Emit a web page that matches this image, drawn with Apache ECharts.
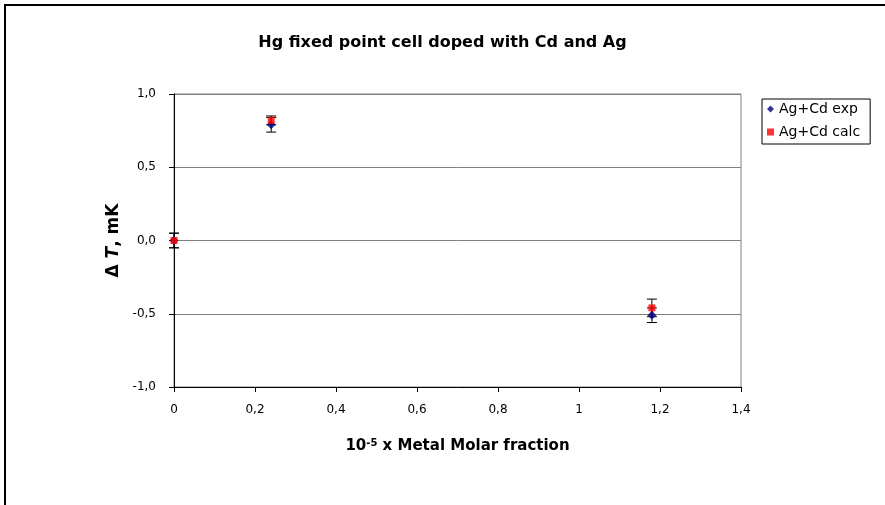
<!DOCTYPE html>
<html>
<head>
<meta charset="utf-8">
<script src="https://cdn.jsdelivr.net/npm/echarts@6/dist/echarts.min.js"></script>
<style>
  html, body { margin: 0; padding: 0; background: #fff; overflow: hidden; }
  #chart { width: 885px; height: 505px; }
</style>
</head>
<body>
<div id="chart"></div>
<script>
// data
var molarFraction = [0, 0.24, 1.18];
var expValues = [0.00, 0.79, -0.51];
var expErrors = [0.05, 0.05, 0.05];
var calcValues = [0.00, 0.82, -0.46];
var calcErrors = [0.05, 0.03, 0.06];

var seriesNames = ['Ag+Cd exp', 'Ag+Cd calc'];
var xTicks = [0, 0.2, 0.4, 0.6, 0.8, 1, 1.2, 1.4];
var yTicks = [-1, -0.5, 0, 0.5, 1];

var font = '"DejaVu Sans", Arial, sans-serif';

function commaX(v) {
    return String(Math.round(v * 10) / 10).replace('.', ',');
}
function commaY(v) {
    return v.toFixed(1).replace('.', ',');
}

function errorData(vals, errs) {
    return molarFraction.map(function (x, i) {
        return [x, vals[i] - errs[i], vals[i] + errs[i]];
    });
}

// vertical bar with caps, drawn through the axes
function renderErr(params, api) {
    var lo = api.coord([api.value(0), api.value(1)]);
    var hi = api.coord([api.value(0), api.value(2)]);
    var cap = 5;
    var st = { stroke: '#000', lineWidth: 1 };
    return {
        type: 'group',
        children: [
            { type: 'line', shape: { x1: lo[0], y1: lo[1], x2: hi[0], y2: hi[1] }, style: st },
            { type: 'line', shape: { x1: lo[0] - cap, y1: lo[1], x2: lo[0] + cap, y2: lo[1] }, style: st },
            { type: 'line', shape: { x1: hi[0] - cap, y1: hi[1], x2: hi[0] + cap, y2: hi[1] }, style: st }
        ]
    };
}

var chart = echarts.init(document.getElementById('chart'));

chart.setOption({
    animation: false,
    backgroundColor: '#fff',
    title: {
        text: 'Hg fixed point cell doped with Cd and Ag',
        left: 'center',
        top: 30,
        textStyle: { fontFamily: font, fontSize: 16, fontWeight: 'bold', color: '#000' }
    },
    legend: {
        orient: 'vertical',
        left: 762,
        top: 99,
        padding: [3, 10, 5, 5],
        itemGap: 9,
        itemWidth: 7,
        itemHeight: 7,
        borderColor: '#000',
        borderWidth: 1,
        textStyle: { fontFamily: font, fontSize: 14, color: '#000' },
        data: [
            { name: seriesNames[0], icon: 'diamond' },
            { name: seriesNames[1], icon: 'rect' }
        ]
    },
    grid: {
        left: 174,
        right: 144,
        top: 94,
        bottom: 118,
        show: true,
        borderColor: '#808080',
        borderWidth: 1
    },
    xAxis: {
        type: 'value',
        min: 0,
        max: 1.4,
        interval: 0.2,
        name: '10{sup|-5} x Metal Molar fraction',
        nameLocation: 'middle',
        nameGap: 51,
        nameTextStyle: {
            fontFamily: font, fontSize: 15, fontWeight: 'bold', color: '#000',
            rich: {
                sup: { fontFamily: font, fontSize: 10, fontWeight: 'bold', color: '#000', verticalAlign: 'top', padding: [0, 0, 7, 0] }
            }
        },
        axisLine: { onZero: false, lineStyle: { color: '#000', width: 1 } },
        axisTick: { inside: false, length: 5, lineStyle: { color: '#000' } },
        axisLabel: {
            margin: 17,
            fontFamily: font, fontSize: 12, color: '#000',
            formatter: commaX,
            customValues: xTicks
        },
        splitLine: { show: false }
    },
    yAxis: {
        type: 'value',
        min: -1,
        max: 1,
        interval: 0.5,
        name: '\u0394 {it|T}, mK',
        nameLocation: 'middle',
        nameGap: 51,
        nameRotate: 90,
        nameTextStyle: {
            fontFamily: font, fontSize: 17, fontWeight: 'bold', color: '#000',
            rich: {
                it: { fontFamily: font, fontSize: 17, fontWeight: 'bold', fontStyle: 'italic', color: '#000' }
            }
        },
        axisLine: { show: true, onZero: false, lineStyle: { color: '#000', width: 1 } },
        axisTick: { show: true, inside: false, length: 5, lineStyle: { color: '#000' } },
        axisLabel: {
            margin: 18,
            fontFamily: font, fontSize: 12, color: '#000',
            formatter: commaY,
            customValues: yTicks
        },
        splitLine: { show: true, lineStyle: { color: '#808080', width: 1 } }
    },
    graphic: [{
        type: 'polyline',
        shape: { points: [[5, 520], [5, 5], [900, 5]] },
        style: { stroke: '#000', lineWidth: 2, fill: null },
        silent: true
    }],
    series: [
        {
            type: 'custom',
            name: 'expErr',
            renderItem: renderErr,
            data: errorData(expValues, expErrors),
            z: 1,
            silent: true
        },
        {
            type: 'custom',
            name: 'calcErr',
            renderItem: renderErr,
            data: errorData(calcValues, calcErrors),
            z: 1,
            silent: true
        },
        {
            type: 'scatter',
            name: seriesNames[0],
            symbol: 'diamond',
            symbolSize: 9,
            itemStyle: { color: '#000080' },
            data: molarFraction.map(function (x, i) { return [x, expValues[i]]; }),
            z: 3
        },
        {
            type: 'scatter',
            name: seriesNames[1],
            symbol: 'rect',
            symbolSize: 7,
            itemStyle: { color: '#ff0000' },
            data: molarFraction.map(function (x, i) { return [x, calcValues[i]]; }),
            z: 4
        }
    ]
});
</script>
</body>
</html>
